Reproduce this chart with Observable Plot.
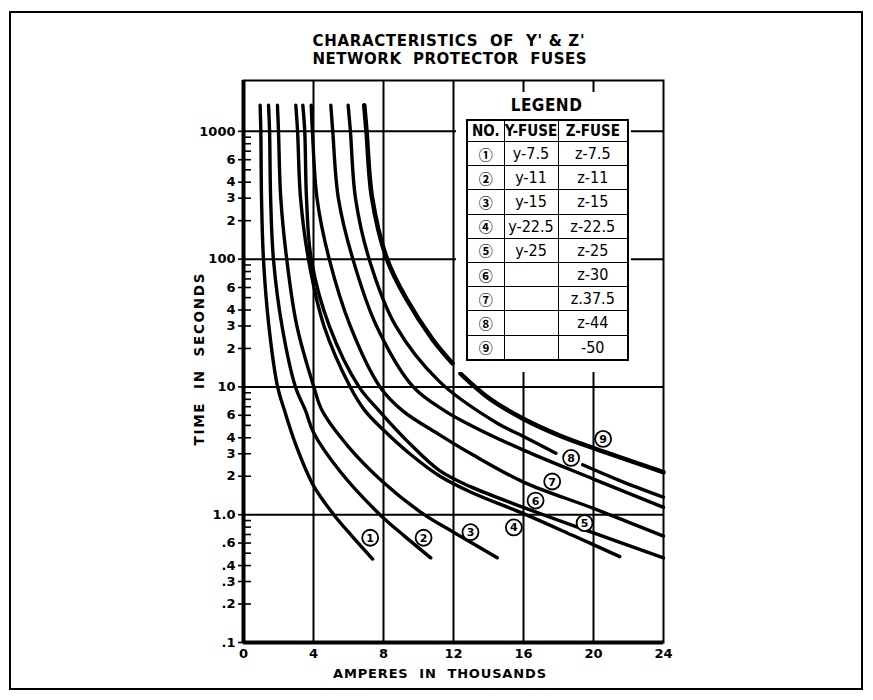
<!DOCTYPE html>
<html>
<head>
<meta charset="utf-8">
<script src="https://cdn.jsdelivr.net/npm/d3@7"></script>
<script src="https://cdn.jsdelivr.net/npm/@observablehq/plot@0.6"></script>
<style>
  html, body { margin: 0; padding: 0; background: #fff; }
  #wrap { position: relative; width: 873px; height: 700px; overflow: hidden; background: #fff; }
  #border { position: absolute; left: 9px; top: 11px; width: 854px; height: 679px; border: 2.5px solid #000; box-sizing: border-box; }
  #chart { position: absolute; left: 0; top: 0; }
  #legendBox { position: absolute; left: 456px; top: 92px; width: 175px; height: 280px; background: #fff; }
  #legendTitle { position: absolute; left: 10px; width: 161px; top: 3px; text-align: center;
    font: bold 17px "Liberation Sans Narrow", "DejaVu Sans Condensed", "Liberation Sans", sans-serif; letter-spacing: 0.5px; }
  #lt { position: absolute; left: 10px; top: 27px; border-collapse: collapse; table-layout: fixed; width: 161px; border: 2px solid #000; }
  #lt th, #lt td { border: 1.5px solid #000; padding: 0; text-align: center; vertical-align: middle; white-space: nowrap;
    font-family: "Liberation Sans Narrow", "DejaVu Sans Condensed", "Liberation Sans", sans-serif; color: #000; }
  #lt th { height: 20px; font-weight: bold; font-size: 15px; }
  #lt td { height: 23.2px; font-size: 16px; }
  #lt td.no { font-family: "Noto Sans CJK JP", "DejaVu Sans", sans-serif; font-size: 14px; font-weight: bold; line-height: 1; }
</style>
</head>
<body>
<div id="wrap">
  <div id="border"></div>
  <div id="chart"></div>
  <div id="legendBox">
    <div id="legendTitle">LEGEND</div>
    <table id="lt">
      <colgroup><col style="width:37px"><col style="width:54px"><col style="width:70px"></colgroup>
      <thead><tr id="lthead"></tr></thead>
      <tbody id="ltbody"></tbody>
    </table>
  </div>
</div>
<script>
// ---------- data ----------
const titleLine1 = "CHARACTERISTICS  OF  Y' & Z'";
const titleLine2 = "NETWORK  PROTECTOR  FUSES";
const yLabel = "TIME  IN  SECONDS";
const xLabel = "AMPERES  IN  THOUSANDS";

const xTickValues = [0, 4, 8, 12, 16, 20, 24];
const xGrid = [4, 8, 12, 16, 20];
const yGrid = [1000, 100, 10, 1];
const yTickValues = [1000, 600, 400, 300, 200, 100, 60, 40, 30, 20, 10, 6, 4, 3, 2, 1, 0.6, 0.4, 0.3, 0.2, 0.1];
const yTickLabels = ["1000", "6", "4", "3", "2", "100", "6", "4", "3", "2", "10", "6", "4", "3", "2", "1.0", ".6", ".4", ".3", ".2", ".1"];
const yMinorTicks = [0.2, 0.3, 0.4, 0.5, 0.6, 0.7, 0.8, 0.9,
                     2, 3, 4, 5, 6, 7, 8, 9,
                     20, 30, 40, 50, 60, 70, 80, 90,
                     200, 300, 400, 500, 600, 700, 800, 900];

// curve points (amperes in thousands, seconds)
const c1Amps = [0.95, 0.99, 1.03, 1.14, 1.45, 1.95, 2.35, 3.0, 4.0, 5.16, 6.2, 7.38];
const c1Secs = [1600, 1000, 300, 100, 30, 10, 6.5, 3.5, 1.69, 1.0, 0.68, 0.45];
const c2Amps = [1.43, 1.49, 1.55, 1.71, 2.2, 2.97, 3.55, 4.0, 5.5, 7.8, 9.2, 10.7];
const c2Secs = [1600, 1000, 300, 100, 30, 10, 6.5, 4.4, 2.2, 1.0, 0.68, 0.46];
const c3Amps = [1.94, 2.0, 2.13, 2.47, 3.05, 4.02, 4.5, 6.0, 8.0, 10.33, 12.0, 14.5];
const c3Secs = [1600, 1000, 300, 100, 30, 10, 6.5, 3.4, 1.79, 1.0, 0.73, 0.46];
const c4Amps = [2.99, 3.09, 3.26, 3.71, 4.6, 6.1, 6.95, 8.0, 9.5, 11.23, 13.0, 16.0, 18.8, 21.5];
const c4Secs = [1600, 1000, 300, 100, 30, 10, 6.5, 4.6, 3.0, 2.0, 1.5, 1.02, 0.69, 0.47];
const c5Amps = [3.39, 3.5, 3.6, 3.87, 4.9, 6.6, 7.75, 9.5, 11.23, 13.0, 16.0, 20.0, 24.0];
const c5Secs = [1600, 1000, 300, 100, 30, 10, 6.5, 3.6, 2.2, 1.65, 1.14, 0.72, 0.46];
const c6Amps = [3.87, 3.94, 4.2, 4.9, 6.1, 7.8, 9.1, 11.23, 13.0, 16.0, 20.0, 24.0];
const c6Secs = [1600, 1000, 300, 100, 30, 10, 6.5, 4.2, 3.0, 1.8, 1.12, 0.68];
const c7Amps = [4.99, 5.1, 5.42, 6.25, 7.6, 9.7, 11.5, 13.0, 16.0, 20.0, 24.0];
const c7Secs = [1600, 1000, 300, 100, 30, 10, 6.5, 5.0, 3.2, 1.9, 1.14];
const c8aAmps = [5.98, 6.11, 6.4, 7.18, 8.7, 11.23, 14.5, 16.0, 17.85];
const c8aSecs = [1600, 1000, 300, 100, 30, 10.9, 5.2, 4.1, 3.03];
const c8bAmps = [19.38, 21.5, 24.0];
const c8bSecs = [2.46, 1.85, 1.37];
const c9aAmps = [6.9, 7.03, 7.35, 8.2, 9.3, 10.8, 11.94];
const c9aSecs = [1600, 1000, 300, 100, 49, 23.6, 15.3];
const c9bAmps = [12.4, 14.0, 16.02, 18.0, 20.05, 24.0];
const c9bSecs = [12.7, 8.2, 5.6, 4.2, 3.3, 2.15];

// circled curve numbers on the chart
const labelNo = [1, 2, 3, 4, 5, 6, 7, 8, 9];
const labelAmps = [7.24, 10.29, 12.97, 15.45, 19.49, 16.69, 17.64, 18.72, 20.55];
const labelSecs = [0.66, 0.66, 0.73, 0.795, 0.86, 1.29, 1.82, 2.78, 3.92];

// legend table
const legendHeader = ["NO.", "Y-FUSE", "Z-FUSE"];
const legendNo = ["①", "②", "③", "④", "⑤", "⑥", "⑦", "⑧", "⑨"];
const legendY = ["y-7.5", "y-11", "y-15", "y-22.5", "y-25", "", "", "", ""];
const legendZ = ["z-7.5", "z-11", "z-15", "z-22.5", "z-25", "z-30", "z.37.5", "z-44", "-50"];

// ---------- build tables ----------
const segments = [
  {curve: 1, seg: "1", amps: c1Amps, secs: c1Secs},
  {curve: 2, seg: "2", amps: c2Amps, secs: c2Secs},
  {curve: 3, seg: "3", amps: c3Amps, secs: c3Secs},
  {curve: 4, seg: "4", amps: c4Amps, secs: c4Secs},
  {curve: 5, seg: "5", amps: c5Amps, secs: c5Secs},
  {curve: 6, seg: "6", amps: c6Amps, secs: c6Secs},
  {curve: 7, seg: "7", amps: c7Amps, secs: c7Secs},
  {curve: 8, seg: "8a", amps: c8aAmps, secs: c8aSecs},
  {curve: 8, seg: "8b", amps: c8bAmps, secs: c8bSecs},
  {curve: 9, seg: "9a", amps: c9aAmps, secs: c9aSecs},
  {curve: 9, seg: "9b", amps: c9bAmps, secs: c9bSecs}
];
const rows = segments.flatMap(s => s.amps.map((a, i) => ({curve: s.curve, seg: s.seg, amps: a, secs: s.secs[i]})));
const labels = labelNo.map((n, i) => ({n, amps: labelAmps[i], secs: labelSecs[i]}));
const yTicks = yTickValues.map((v, i) => ({v, label: yTickLabels[i]}));

const svg = Plot.plot({
  width: 873,
  height: 700,
  marginLeft: 243,
  marginRight: 210,
  marginTop: 80,
  marginBottom: 58,
  style: {fontFamily: '"DejaVu Sans", sans-serif', fontSize: "13px", background: "transparent", color: "#000", overflow: "visible"},
  x: {domain: [0, 24]},
  y: {type: "log", domain: [0.1, 2500]},
  marks: [
    Plot.ruleY(yGrid, {stroke: "#000", strokeWidth: 2}),
    Plot.ruleX(xGrid, {stroke: "#000", strokeWidth: 2}),
    Plot.frame({stroke: "#000", strokeWidth: 2}),
    Plot.ruleX([0], {stroke: "#000", strokeWidth: 4}),
    Plot.ruleY([0.1], {stroke: "#000", strokeWidth: 4}),
    // minor ticks inside the frame
    Plot.axisY({anchor: "right", frameAnchor: "left", ticks: yMinorTicks, tickSize: 7, tickFormat: () => "", label: null, strokeWidth: 1.6}),
    // labelled ticks outside the frame
    Plot.axisY({anchor: "left", ticks: yTickValues, tickSize: 5, tickFormat: () => "", label: null, strokeWidth: 1.6}),
    Plot.text(yTicks, {y: "v", text: "label", frameAnchor: "left", textAnchor: "end", dx: -8, fontWeight: "bold", fontSize: 13}),
    Plot.axisX({anchor: "bottom", ticks: xTickValues, tickSize: 0, tickPadding: 6, tickFormat: d => String(d), label: null, fontWeight: "bold", fontSize: 13}),
    Plot.line(rows.filter(d => d.curve !== 9), {x: "amps", y: "secs", z: "seg", curve: "catmull-rom", stroke: "#000", strokeWidth: 3.4, strokeLinecap: "round"}),
    Plot.line(rows.filter(d => d.curve === 9), {x: "amps", y: "secs", z: "seg", curve: "catmull-rom", stroke: "#000", strokeWidth: 4.6, strokeLinecap: "round"}),
    Plot.dot(labels, {x: "amps", y: "secs", r: 8, fill: "#fff", stroke: "#000", strokeWidth: 1.8}),
    Plot.text(labels, {x: "amps", y: "secs", text: d => String(d.n), fontWeight: "bold", fontSize: 11, dy: 0.5}),
    Plot.text([titleLine1], {frameAnchor: "top", dx: -5, dy: -45, fontWeight: "bold", fontSize: 15}),
    Plot.text([titleLine2], {frameAnchor: "top", dx: -4, dy: -27, fontWeight: "bold", fontSize: 15}),
    Plot.text([yLabel], {frameAnchor: "left", textAnchor: "middle", dx: -44, dy: -2, rotate: -90, fontWeight: "bold", fontSize: 13.5}),
    Plot.text([xLabel], {frameAnchor: "bottom", dx: -14, dy: 35, fontWeight: "bold", fontSize: 13})
  ]
});
document.getElementById("chart").appendChild(svg);

function fitText(str, len) {
  svg.querySelectorAll("text").forEach(t => {
    if (t.textContent === str) {
      t.setAttribute("textLength", len);
      t.setAttribute("lengthAdjust", "spacing");
      t.style.whiteSpace = "pre";
    }
  });
}
fitText(titleLine1, 272);
fitText(titleLine2, 274);
fitText(yLabel, 172);
fitText(xLabel, 213);

// legend table
const head = document.getElementById("lthead");
legendHeader.forEach(h => { const th = document.createElement("th"); th.textContent = h; head.appendChild(th); });
const body = document.getElementById("ltbody");
legendNo.forEach((n, i) => {
  const tr = document.createElement("tr");
  [[n, "no"], [legendY[i], ""], [legendZ[i], ""]].forEach(([v, c]) => {
    const td = document.createElement("td");
    td.textContent = v;
    if (c) td.className = c;
    tr.appendChild(td);
  });
  body.appendChild(tr);
});
</script>
</body>
</html>
